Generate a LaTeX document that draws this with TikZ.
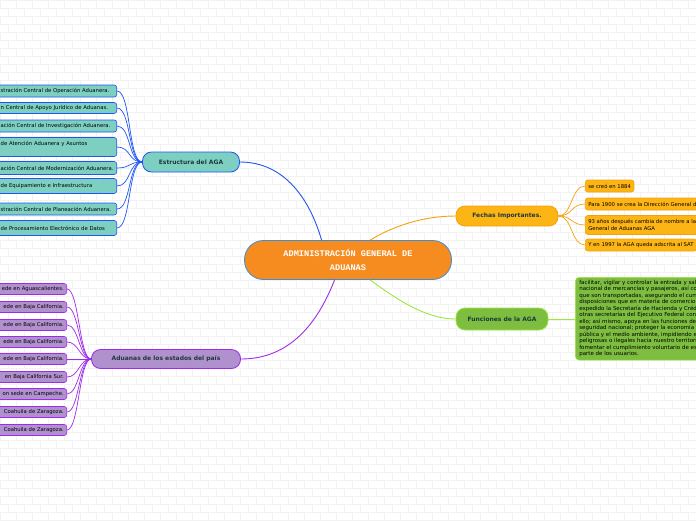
\documentclass[tikz,border=0pt]{standalone}
\usepackage{fontspec}
\setmainfont{DejaVu Sans}
\newfontfamily\monofuente{Liberation Mono}

\definecolor{naranja}{HTML}{F68B1F}
\definecolor{azulborde}{HTML}{3A8FD0}
\definecolor{turquesa}{HTML}{7DCFC2}
\definecolor{azul}{HTML}{1F55F0}
\definecolor{lila}{HTML}{B190CE}
\definecolor{morado}{HTML}{9D2BE8}
\definecolor{ambar}{HTML}{FDB515}
\definecolor{ambarborde}{HTML}{F5A10C}
\definecolor{verde}{HTML}{7DBE41}
\definecolor{verdeclaro}{HTML}{9BE83C}
\definecolor{textoosc}{HTML}{1D3B3B}

\tikzset{
  rama/.style={rounded corners=9pt, draw, line width=0.8pt, inner sep=0pt,
    font=\fontsize{6}{7}\selectfont\bfseries, text=textoosc},
  hoja/.style={rounded corners=2.5pt, draw, line width=0.6pt, inner xsep=3pt,
    inner ysep=0pt, align=left, font=\fontsize{5.3}{6.2}\selectfont, text=black},
  enlace/.style={line width=0.9pt},
}

\begin{document}
\begin{tikzpicture}[x=1pt, y=-1pt]
    \clip (0,0) rectangle (696,520);
    % Fondo de ladrillos
    \foreach \f in {0,...,65} {
        \draw[black!5, line width=0.4pt] (0,\f*8) -- (696,\f*8);
        \pgfmathsetmacro{\desp}{mod(\f,2)*8}
        \foreach \c in {0,...,44} {
            \draw[black!5, line width=0.4pt] (\desp+\c*16,\f*8) -- ++(0,8);
        }
    }

    % Nodo central
    \node[rounded corners=19pt, draw=azulborde, fill=naranja, line width=0.8pt,
          minimum width=207pt, minimum height=39pt, align=center, text=white,
          font=\monofuente\bfseries\fontsize{8.6}{14}\selectfont]
          (aga) at (348,260) {ADMINISTRACIÓN GENERAL DE\\ADUANAS};

    % Ramas principales
    \node[rama, fill=turquesa, draw=azul, minimum width=97pt, minimum height=20pt]
          (estr) at (191,162) {Estructura del AGA};
    \node[rama, fill=ambar, draw=ambarborde, minimum width=102pt, minimum height=20pt]
          (fechas) at (507,216) {Fechas Importantes.};
    \node[rama, fill=verde, draw=verdeclaro, minimum width=92pt, minimum height=22pt]
          (func) at (502,319) {Funciones de la AGA};
    \node[rama, fill=lila, draw=morado, minimum width=149pt, minimum height=19pt]
          (adu) at (166,359) {Aduanas de los estados del país};

    \draw[enlace, azul] (aga.143) .. controls (310,200) and (285,162) .. (estr.east);
    \draw[enlace, ambarborde] (aga.42) .. controls (395,225) and (425,216) .. (fechas.west);
    \draw[enlace, verdeclaro] (aga.-42) .. controls (395,298) and (425,319) .. (func.west);
    \draw[enlace, morado] (aga.-124) .. controls (315,330) and (285,359) .. (adu.east);

    % Hojas de la estructura
    \foreach \i/\y/\h/\t in {
        1/91/12/{stración Central de Operación Aduanera.},
        2/108/11/{n Central de Apoyo Jurídico de Aduanas.},
        3/126/12/{ación Central de Investigación Aduanera.},
        4/147/19/{de Atención Aduanera y Asuntos\\\strut},
        5/168/13/{ación Central de Modernización Aduanera.},
        6/186/15/{de Equipamiento e Infraestructura},
        7/209/12/{stración Central de Planeación Aduanera.},
        8/228/15/{de Procesamiento Electrónico de Datos}} {
        \node[hoja, fill=turquesa, draw=azul, text width=113pt, minimum height=\h pt,
              anchor=east] (e\i) at (117,\y) {\t};
        \draw[enlace, azul, line width=0.7pt] (estr.west) .. controls +(-14,0) and +(14,0) .. (e\i.east);
    }

    % Hojas de las aduanas
    \foreach \i/\y/\t in {
        1/289/{ede en Aguascalientes.},
        2/307/{ede en Baja California.},
        3/325/{ede en Baja California.},
        4/342/{ede en Baja California.},
        5/359/{ede en Baja California.},
        6/377/{en Baja California Sur.},
        7/394/{on sede en Campeche.},
        8/412/{Coahuila de Zaragoza.},
        9/430/{Coahuila de Zaragoza.}} {
        \node[hoja, fill=lila, draw=morado, text width=68pt, minimum height=11pt,
              align=right, anchor=east] (a\i) at (67,\y) {\t};
        \draw[enlace, morado, line width=0.7pt] (adu.west) .. controls +(-12,0) and +(12,0) .. (a\i.east);
    }

    % Hojas de las fechas
    \foreach \i/\y/\h/\t in {
        1/186/12/{se creó en 1884},
        2/204/12/{Para 1900 se crea la Dirección General de Aduanas},
        3/225/19/{93 años después cambia de nombre a la Administración\\General de Aduanas AGA},
        4/245/12/{Y en 1997 la AGA queda adscrita al SAT}} {
        \node[hoja, fill=ambar, draw=ambarborde, minimum height=\h pt,
              anchor=west] (f\i) at (585,\y) {\t};
        \draw[enlace, ambarborde, line width=0.7pt] (fechas.east) .. controls +(14,0) and +(-14,0) .. (f\i.west);
    }

    % Texto de las funciones
    \node[hoja, fill=verde, draw=verdeclaro, rounded corners=4pt, inner xsep=4pt,
          inner ysep=3pt, anchor=north west, font=\fontsize{5.5}{6.5}\selectfont]
          (ftexto) at (575,277) {facilitar, vigilar y controlar la entrada y salida del territorio\\
          nacional de mercancías y pasajeros, así como los medios en\\
          que son transportadas, asegurando el cumplimiento de las\\
          disposiciones que en materia de comercio exterior, haya\\
          expedido la Secretaría de Hacienda y Crédito Público y\\
          otras secretarías del Ejecutivo Federal con competencia para\\
          ello; así mismo, apoya en las funciones de fiscalización y\\
          seguridad nacional; proteger la economía del país, la salud\\
          pública y el medio ambiente, impidiendo el flujo de mercancías\\
          peligrosas o ilegales hacia nuestro territorio, además de\\
          fomentar el cumplimiento voluntario de esas disposiciones por\\
          parte de los usuarios.};
    \draw[enlace, verdeclaro] (func.east) -- (ftexto.west |- func.east);
\end{tikzpicture}
\end{document}
